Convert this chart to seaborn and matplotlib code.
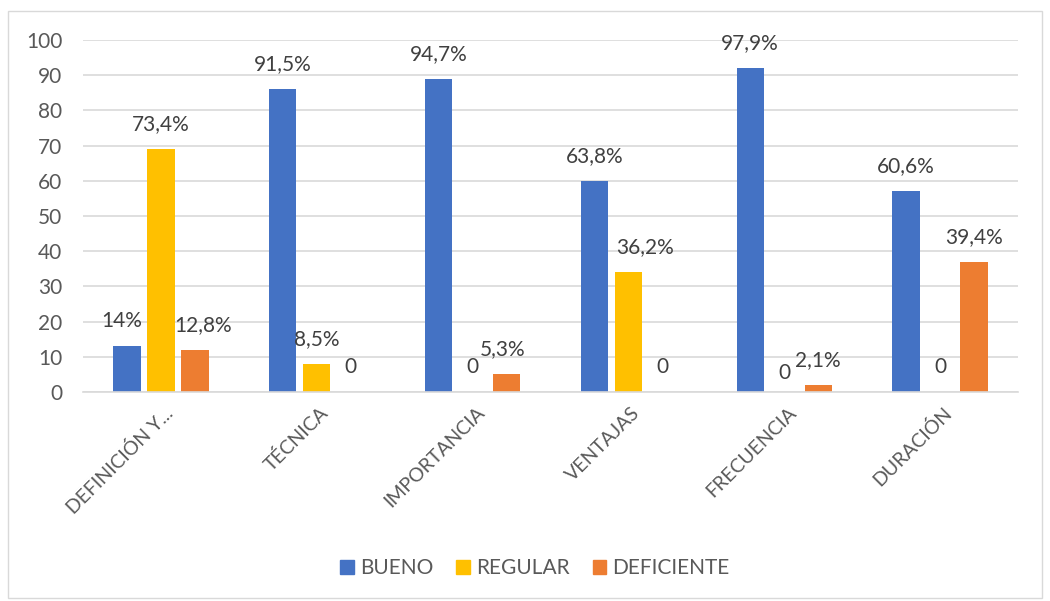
import pandas as pd
import matplotlib.pyplot as plt
import matplotlib.transforms as mtransforms
from matplotlib.patches import Rectangle
import seaborn as sns

categories = ['DEFINICIÓN Y...', 'TÉCNICA', 'IMPORTANCIA', 'VENTAJAS', 'FRECUENCIA', 'DURACIÓN']
series = ['BUENO', 'REGULAR', 'DEFICIENTE']
bueno = [13, 86, 89, 60, 92, 57]
regular = [69, 8, 0, 34, 0, 0]
deficiente = [12, 0, 5, 0, 2, 37]
bueno_lbl = ['14%', '91,5%', '94,7%', '63,8%', '97,9%', '60,6%']
regular_lbl = ['73,4%', '8,5%', '0', '36,2%', '0', '0']
deficiente_lbl = ['12,8%', '0', '5,3%', '0', '2,1%', '39,4%']
yticks = list(range(0, 101, 10))

colors = ['#4472C4', '#FFC000', '#ED7D31']
grid_col = '#D9D9D9'
txt_col = '#595959'

df = pd.DataFrame({
    'cat': categories * 3,
    'serie': [s for s in series for _ in categories],
    'val': bueno + regular + deficiente,
})
labels = [bueno_lbl, regular_lbl, deficiente_lbl]

# small label nudges (points) like Excel does to avoid overlaps
nudge = {(0, 0): (-4, 0), (2, 0): (6, 0), (1, 3): (12, 0),
         (2, 2): (-3, 0), (1, 4): (0, -4)}

sns.set_style('white')
plt.rcParams['font.family'] = ['Lato', 'DejaVu Sans']

fig = plt.figure(figsize=(10.5, 6.01), dpi=100)
ax = fig.add_axes([83 / 1050, 1 - 392 / 601, 935 / 1050, 352 / 601])

sns.barplot(data=df, x='cat', y='val', hue='serie', order=categories,
            hue_order=series, palette=colors, width=0.655, gap=0.2,
            linewidth=0, saturation=1, legend=False, ax=ax)

# data labels above bars
for i, (cont, lbls) in enumerate(zip(ax.containers, labels)):
    for j, (bar, lbl) in enumerate(zip(cont, lbls)):
        x = bar.get_x() + bar.get_width() / 2
        dx, dy = nudge.get((i, j), (0, 0))
        ax.annotate(lbl, (x, bar.get_height()), xytext=(dx, 18 + dy),
                    textcoords='offset points', ha='center', va='center',
                    fontsize=15, color='#404040')

ax.set_ylim(0, 100)
ax.set_yticks(yticks)
ax.set_xlim(-0.5, len(categories) - 0.5)
ax.set_xlabel('')
ax.set_ylabel('')
ax.yaxis.grid(True, color=grid_col, lw=1.2)
ax.set_axisbelow(True)
for s in ['left', 'top', 'right']:
    ax.spines[s].set_visible(False)
ax.spines['bottom'].set_color(grid_col)
ax.spines['bottom'].set_linewidth(1.2)
ax.tick_params(axis='y', length=0, pad=15, labelsize=15, labelcolor=txt_col)
ax.tick_params(axis='x', length=0, pad=0, labelsize=14, labelcolor=txt_col)

offset = mtransforms.ScaledTranslation(0.09, -0.18, fig.dpi_scale_trans)
for t in ax.get_xticklabels():
    t.set_rotation(45)
    t.set_ha('right')
    t.set_va('center')
    t.set_rotation_mode('anchor')
    t.set_transform(t.get_transform() + offset)

handles = [Rectangle((0, 0), 1, 1, color=c) for c in colors]
fig.legend(handles, series, loc='center', bbox_to_anchor=(535 / 1050, 1 - 568 / 601),
           ncol=3, frameon=False, fontsize=15, handlelength=0.65, handleheight=0.65,
           handletextpad=0.3, columnspacing=1.1, labelcolor=txt_col)

fig.add_artist(Rectangle((8 / 1050, 3 / 601), 1034 / 1050, 587 / 601,
                         transform=fig.transFigure, fill=False,
                         edgecolor=grid_col, lw=1))

fig.savefig('out.png', dpi=100)
